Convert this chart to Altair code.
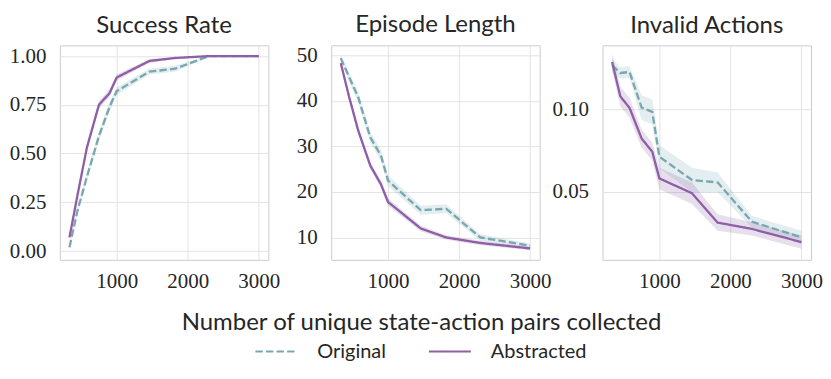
import altair as alt
import pandas as pd

# ---------------- data ----------------
x_vals = [335, 450, 580, 750, 900, 1000, 1460, 1820, 2300, 3000]
series_names = ["Original", "Abstracted"]
panel_titles = ["Success Rate", "Episode Length", "Invalid Actions"]

success_orig = [0.02, 0.21, 0.38, 0.59, 0.74, 0.82, 0.92, 0.935, 1.0, 1.0]
success_orig_ci = [0.01, 0.015, 0.02, 0.025, 0.025, 0.02, 0.015, 0.015, 0.003, 0.0]
success_abst = [0.07, 0.29, 0.53, 0.75, 0.81, 0.89, 0.975, 0.99, 1.0, 1.0]
success_abst_ci = [0.01, 0.015, 0.02, 0.02, 0.02, 0.015, 0.01, 0.005, 0.0, 0.0]

length_orig = [49.4, 45.3, 40.8, 32.0, 28.0, 22.5, 16.0, 16.3, 10.0, 8.2]
length_orig_ci = [0.6, 1.0, 1.2, 1.2, 1.2, 1.2, 1.0, 1.0, 0.7, 0.5]
length_abst = [48.3, 41.0, 33.5, 25.8, 21.7, 17.8, 12.0, 10.0, 8.8, 7.6]
length_abst_ci = [0.5, 0.8, 0.8, 0.8, 0.8, 0.8, 0.6, 0.5, 0.5, 0.4]

invalid_orig = [0.1265, 0.1219, 0.1225, 0.101, 0.0984, 0.0713, 0.0572, 0.0558, 0.0321, 0.0225]
invalid_orig_ci = [0.0045, 0.0035, 0.0035, 0.0075, 0.0075, 0.007, 0.0075, 0.006, 0.0035, 0.004]
invalid_abst = [0.1285, 0.1078, 0.1008, 0.0823, 0.0743, 0.0582, 0.0492, 0.0315, 0.0277, 0.0197]
invalid_abst_ci = [0.005, 0.006, 0.006, 0.0055, 0.0055, 0.0065, 0.0065, 0.005, 0.004, 0.004]

x_ticks = [1000, 2000, 3000]
success_ticks = [0.0, 0.25, 0.5, 0.75, 1.0]
length_ticks = [10, 20, 30, 40, 50]
invalid_ticks = [0.05, 0.10]

x_title = "Number of unique state-action pairs collected"

# ---------------- styling ----------------
TEAL = "#78a7b0"
PURPLE = "#8e5ea6"
TEXT = "#262626"
SERIF = "Liberation Serif"
SANS = "Lato"
series_colors = [TEAL, PURPLE]


def make_df(panel, orig, orig_ci, abst, abst_ci):
    rows = []
    for name, vals, ci in [("Original", orig, orig_ci), ("Abstracted", abst, abst_ci)]:
        for xv, v, c in zip(x_vals, vals, ci):
            rows.append({"panel": panel, "series": name, "x": xv, "mean": v,
                         "lo": v - c, "hi": v + c})
    return pd.DataFrame(rows)


dfs = [
    make_df(panel_titles[0], success_orig, success_orig_ci, success_abst, success_abst_ci),
    make_df(panel_titles[1], length_orig, length_orig_ci, length_abst, length_abst_ci),
    make_df(panel_titles[2], invalid_orig, invalid_orig_ci, invalid_abst, invalid_abst_ci),
]

color_scale = alt.Scale(domain=series_names, range=series_colors)
dash_scale = alt.Scale(domain=series_names, range=[[7.4, 3.2], [1, 0]])

legend = alt.Legend(
    orient="none", direction="horizontal", legendX=195, legendY=285,
    title=None, symbolType="stroke", symbolSize=1764, symbolStrokeWidth=2,
    labelFont=SANS, labelFontSize=20, labelColor=TEXT, labelOffset=19,
    columnPadding=39, symbolOpacity=1,
)


def panel(df, title, ydomain, yticks, yfmt, show_xtitle):
    base = alt.Chart(df)
    xaxis_kwargs = dict(values=x_ticks, format="d", labelPadding=11)
    if show_xtitle:
        xaxis_kwargs.update(title=x_title, titleX=90, titleY=70,
                            titleBaseline="alphabetic", titleFont=SANS,
                            titleFontSize=24, titleFontWeight="normal",
                            titleColor=TEXT)
    else:
        xaxis_kwargs.update(title=None)
    x = alt.X("x:Q", scale=alt.Scale(domain=[200, 3135], nice=False, zero=False),
              axis=alt.Axis(**xaxis_kwargs))
    yscale = alt.Scale(domain=ydomain, nice=False, zero=False)
    yaxis = alt.Axis(values=yticks, format=yfmt, title=None, labelPadding=14)
    bands = [
        base.transform_filter(alt.datum.series == name)
        .mark_area(opacity=0.2, color=col)
        .encode(x=x, y=alt.Y("lo:Q", scale=yscale, axis=yaxis), y2="hi:Q")
        for name, col in zip(series_names, series_colors)
    ]
    line = base.mark_line(strokeWidth=2.3).encode(
        x=x,
        y=alt.Y("mean:Q", scale=yscale, axis=yaxis),
        color=alt.Color("series:N", scale=color_scale, legend=legend),
        strokeDash=alt.StrokeDash("series:N", scale=dash_scale, legend=legend),
    )
    return alt.layer(*bands, line).properties(
        width=209, height=215,
        title=alt.TitleParams(title, offset=7),
    )


p1 = panel(dfs[0], panel_titles[0], [-0.045, 1.055], success_ticks, ".2f", False)
p2 = panel(dfs[1], panel_titles[1], [5.1, 52.2], length_ticks, "d", True)
p3 = panel(dfs[2], panel_titles[2], [0.009, 0.1386], invalid_ticks, ".2f", False)

chart = (
    alt.hconcat(p1, p2, p3, spacing=63, bounds="flush")
    .properties(padding={"left": 0, "top": 4, "right": 0, "bottom": 0})
    .configure_view(stroke="#cccccc", strokeWidth=1)
    .configure_axis(
        grid=True, gridColor="#e3e3e3", gridWidth=1, domain=False, ticks=False,
        labelFont=SERIF, labelFontSize=21, labelColor=TEXT,
    )
    .configure_title(font=SANS, fontSize=24, fontWeight="normal", color=TEXT,
                     anchor="middle")
)

chart.save("out.html", embed_options={"renderer": "svg", "actions": False})
